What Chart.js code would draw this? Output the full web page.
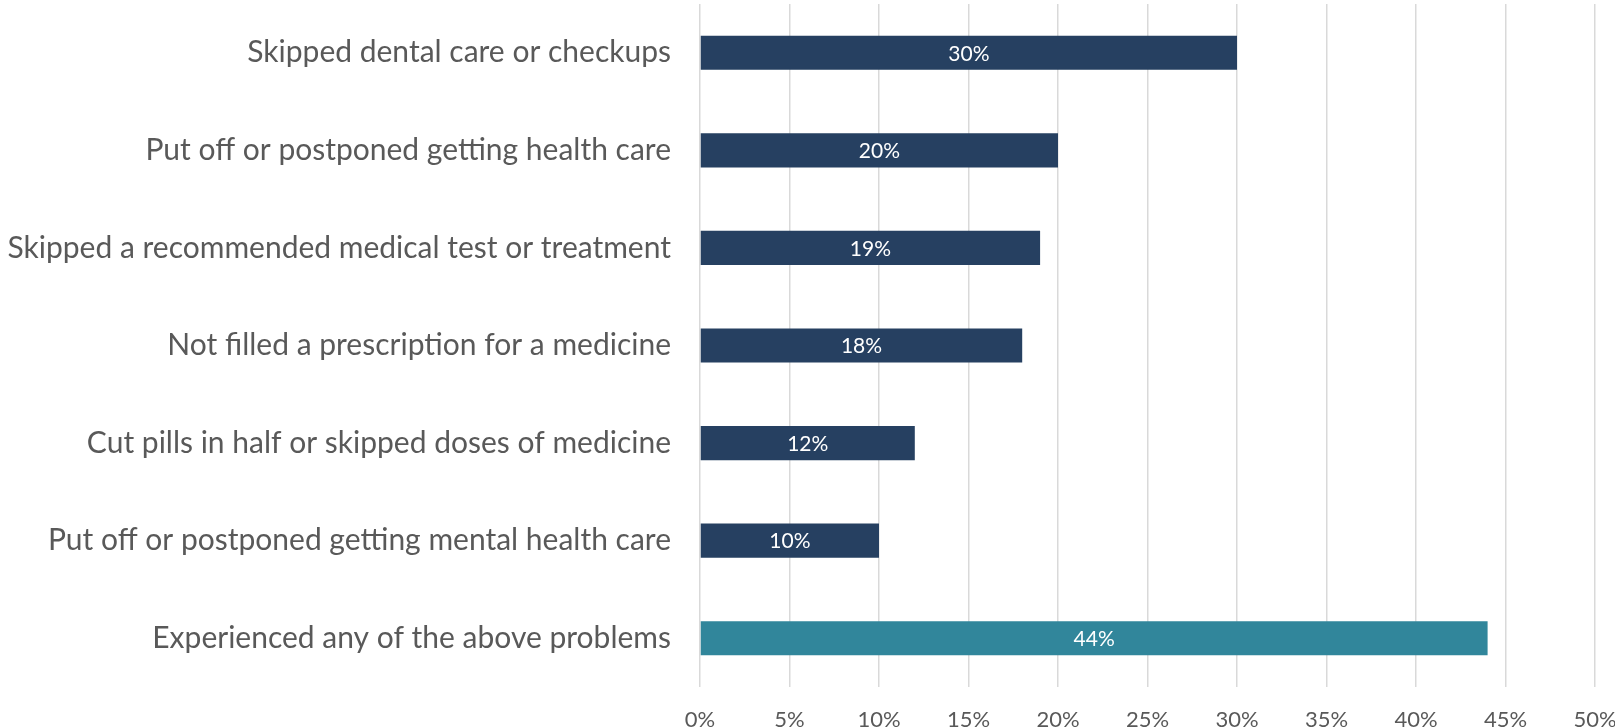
<!DOCTYPE html>
<html>
<head>
<meta charset="utf-8">
<script src="https://cdn.jsdelivr.net/npm/chart.js@4"></script>
<style>
    body { margin: 0; background: #fff; }
    #wrap { width: 1615px; height: 727px; position: relative; }
</style>
</head>
<body>
<div id="wrap"><canvas id="cost-chart"></canvas></div>
<script>
const categories = [
    'Skipped dental care or checkups',
    'Put off or postponed getting health care',
    'Skipped a recommended medical test or treatment',
    'Not filled a prescription for a medicine',
    'Cut pills in half or skipped doses of medicine',
    'Put off or postponed getting mental health care',
    'Experienced any of the above problems'
];
const values = [30, 20, 19, 18, 12, 10, 44];
const xTicks = [0, 5, 10, 15, 20, 25, 30, 35, 40, 45, 50];

const NAVY = '#264061';
const TEAL = '#31869b';
const FONT = 'Lato';

// white % labels in the middle of each bar
const barLabels = {
    id: 'barLabels',
    afterDatasetsDraw(chart) {
        const ctx = chart.ctx;
        ctx.save();
        ctx.fillStyle = '#ffffff';
        ctx.font = '21px ' + FONT;
        ctx.textAlign = 'center';
        ctx.textBaseline = 'middle';
        chart.getDatasetMeta(0).data.forEach((bar, i) => {
            ctx.fillText(values[i] + '%', (bar.x + bar.base) / 2, bar.y + 1);
        });
        ctx.restore();
    }
};

const ctx = document.getElementById('cost-chart').getContext('2d');

new Chart(ctx, {
    type: 'bar',
    data: {
        labels: categories,
        datasets: [{
            data: values,
            backgroundColor: (c) => c.dataIndex === values.length - 1 ? TEAL : NAVY,
            barPercentage: 0.35,
            categoryPercentage: 1
        }]
    },
    options: {
        indexAxis: 'y',
        responsive: true,
        maintainAspectRatio: false,
        animation: false,
        layout: {
            padding: {top: 4, right: 20, left: 0, bottom: 0}
        },
        plugins: {
            legend: {display: false},
            tooltip: {enabled: false}
        },
        scales: {
            x: {
                min: 0,
                max: 50,
                afterBuildTicks: (scale) => {
                    scale.ticks = xTicks.map(v => ({value: v}));
                },
                afterFit: (scale) => {
                    scale.height = 40;
                    // no extra room for the end labels, layout padding handles it
                    scale.paddingLeft = 0;
                    scale.paddingRight = 0;
                },
                grid: {
                    color: '#d9d9d9',
                    lineWidth: 1.5,
                    drawTicks: false
                },
                border: {display: false},
                ticks: {
                    color: '#595959',
                    font: {family: FONT, size: 22},
                    padding: 20,
                    maxRotation: 0,
                    callback: (v) => v + '%'
                }
            },
            y: {
                afterFit: (scale) => {
                    scale.width = 700;
                    scale.paddingTop = 0;
                    scale.paddingBottom = 0;
                },
                grid: {display: false, drawTicks: false},
                border: {display: false},
                ticks: {
                    color: '#595959',
                    font: {family: FONT, size: 30},
                    padding: 29
                }
            }
        }
    },
    plugins: [barLabels]
});
</script>
</body>
</html>
